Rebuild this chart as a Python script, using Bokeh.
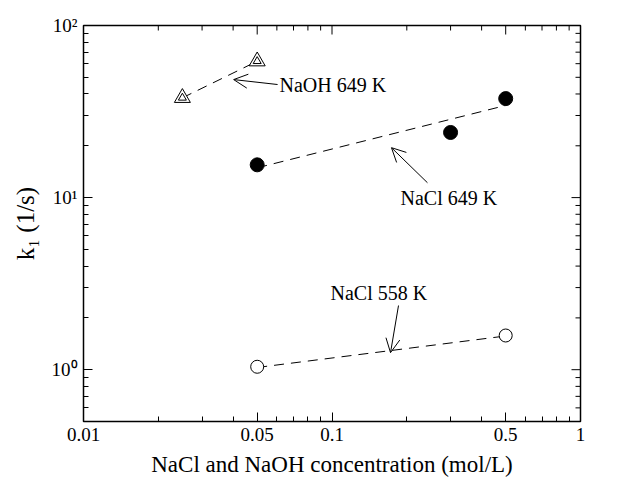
import math
from bokeh.plotting import figure
from bokeh.models import FixedTicker, Arrow, OpenHead, Label, Range1d
from bokeh.embed import file_html
from bokeh.resources import INLINE

# data
nacl_x = [0.05, 0.3, 0.5]
nacl_649 = [15.5, 23.9, 37.6]
nacl_558_x = [0.05, 0.5]
nacl_558 = [1.04, 1.58]
naoh_x = [0.025, 0.05]
naoh_649 = [38.0, 62.0]
fit_x = [0.05, 0.5]
fit_649 = [14.9, 34.3]
fit_558 = [1.03, 1.57]
x_ticks = [0.01, 0.05, 0.1, 0.5, 1]
x_tick_labels = ["0.01", "0.05", "0.1", "0.5", "1"]
y_ticks = [1, 10, 100]
y_tick_labels = ["10\u2070", "10\u00b9", "10\u00b2"]
x_minor = [0.02, 0.03, 0.04, 0.06, 0.07, 0.08, 0.09, 0.2, 0.3, 0.4, 0.6, 0.7, 0.8, 0.9]
y_minor = [0.5, 0.6, 0.7, 0.8, 0.9, 2, 3, 4, 5, 6, 7, 8, 9, 20, 30, 40, 50, 60, 70, 80, 90]
x_lo, x_hi = 0.01, 1
y_lo, y_hi = 0.5, 100

FONT = "Liberation Serif"
DASH = "10 7"

p = figure(frame_width=497, frame_height=396, x_axis_type="log", y_axis_type="log",
           x_range=Range1d(x_lo, x_hi), y_range=Range1d(y_lo, y_hi),
           output_backend="svg", toolbar_location=None,
           min_border_left=83, min_border_top=25, min_border_right=36, min_border_bottom=10)
p.xgrid.visible = False
p.ygrid.visible = False
p.outline_line_color = "black"
p.outline_line_width = 1.5

for ax in p.xaxis + p.yaxis:
    ax.major_tick_in = 9
    ax.major_tick_out = 0
    ax.minor_tick_in = 5
    ax.minor_tick_out = 0
    ax.axis_line_color = "black"
    ax.major_tick_line_color = "black"
    ax.minor_tick_line_color = "black"
    ax.major_label_text_font = FONT
    ax.major_label_text_font_size = "19px"
    ax.major_label_text_color = "black"
    ax.axis_label_text_font = FONT
    ax.axis_label_text_font_style = "normal"
    ax.axis_label_text_font_size = "23px"
    ax.axis_label_text_color = "black"

p.xaxis.ticker = FixedTicker(ticks=x_ticks, minor_ticks=x_minor)
p.yaxis.ticker = FixedTicker(ticks=y_ticks, minor_ticks=y_minor)
p.xaxis.major_label_overrides = {t: l for t, l in zip(x_ticks, x_tick_labels)}
p.yaxis.major_label_overrides = {t: l for t, l in zip(y_ticks, y_tick_labels)}
p.xaxis.axis_label = "NaCl and NaOH concentration (mol/L)"
p.yaxis.axis_label = "k\u2081 (1/s)"
p.yaxis.axis_label_text_font_size = "25px"
p.xaxis.major_label_standoff = 6
p.yaxis.major_label_standoff = 6
p.yaxis.axis_label_standoff = 10
p.xaxis.axis_label_standoff = 8

# mirrored ticks on right and top edges
p.ray(x=[x_hi] * len(y_ticks), y=y_ticks, length=9, length_units="screen", angle=math.pi,
      line_color="black", line_width=1)
p.ray(x=[x_hi] * len(y_minor), y=y_minor, length=5, length_units="screen", angle=math.pi,
      line_color="black", line_width=1)
p.ray(x=x_ticks, y=[y_hi] * len(x_ticks), length=9, length_units="screen", angle=-math.pi / 2,
      line_color="black", line_width=1)
p.ray(x=x_minor, y=[y_hi] * len(x_minor), length=5, length_units="screen", angle=-math.pi / 2,
      line_color="black", line_width=1)

# fit lines
p.line(fit_x, fit_649, line_color="black", line_dash=DASH, line_width=1)
p.line(fit_x, fit_558, line_color="black", line_dash=DASH, line_width=1)
p.line(naoh_x, naoh_649, line_color="black", line_dash=DASH, line_width=1)

# markers
p.scatter(nacl_x, nacl_649, marker="circle", size=14, fill_color="black", line_color="black")
p.scatter(nacl_558_x, nacl_558, marker="circle", size=13, fill_color="white", line_color="black", line_width=1)
p.scatter(naoh_x, naoh_649, marker="triangle", size=16, fill_color="white", line_color="black", line_width=1)
p.scatter(naoh_x, naoh_649, marker="triangle", size=8, fill_color="white", line_color="black", line_width=1)

# annotations
def lab(x, y, t):
    p.add_layout(Label(x=x, y=y, text=t, text_font=FONT, text_font_size="20px",
                       text_baseline="middle", text_align="left", text_color="black"))

lab(0.0615, 45.4, "NaOH 649 K")
lab(0.1887, 10.0, "NaCl 649 K")
lab(0.0986, 2.80, "NaCl 558 K")

def arr(x0, y0, x1, y1):
    p.add_layout(Arrow(end=OpenHead(size=14, line_width=1, line_color="black"),
                       x_start=x0, y_start=y0, x_end=x1, y_end=y1,
                       line_color="black", line_width=1))

arr(0.0604, 45.4, 0.0402, 48.5)
arr(0.2422, 12.2, 0.1735, 19.5)
arr(0.1852, 2.36, 0.172, 1.256)

open("out.html", "w").write(file_html(p, INLINE))
